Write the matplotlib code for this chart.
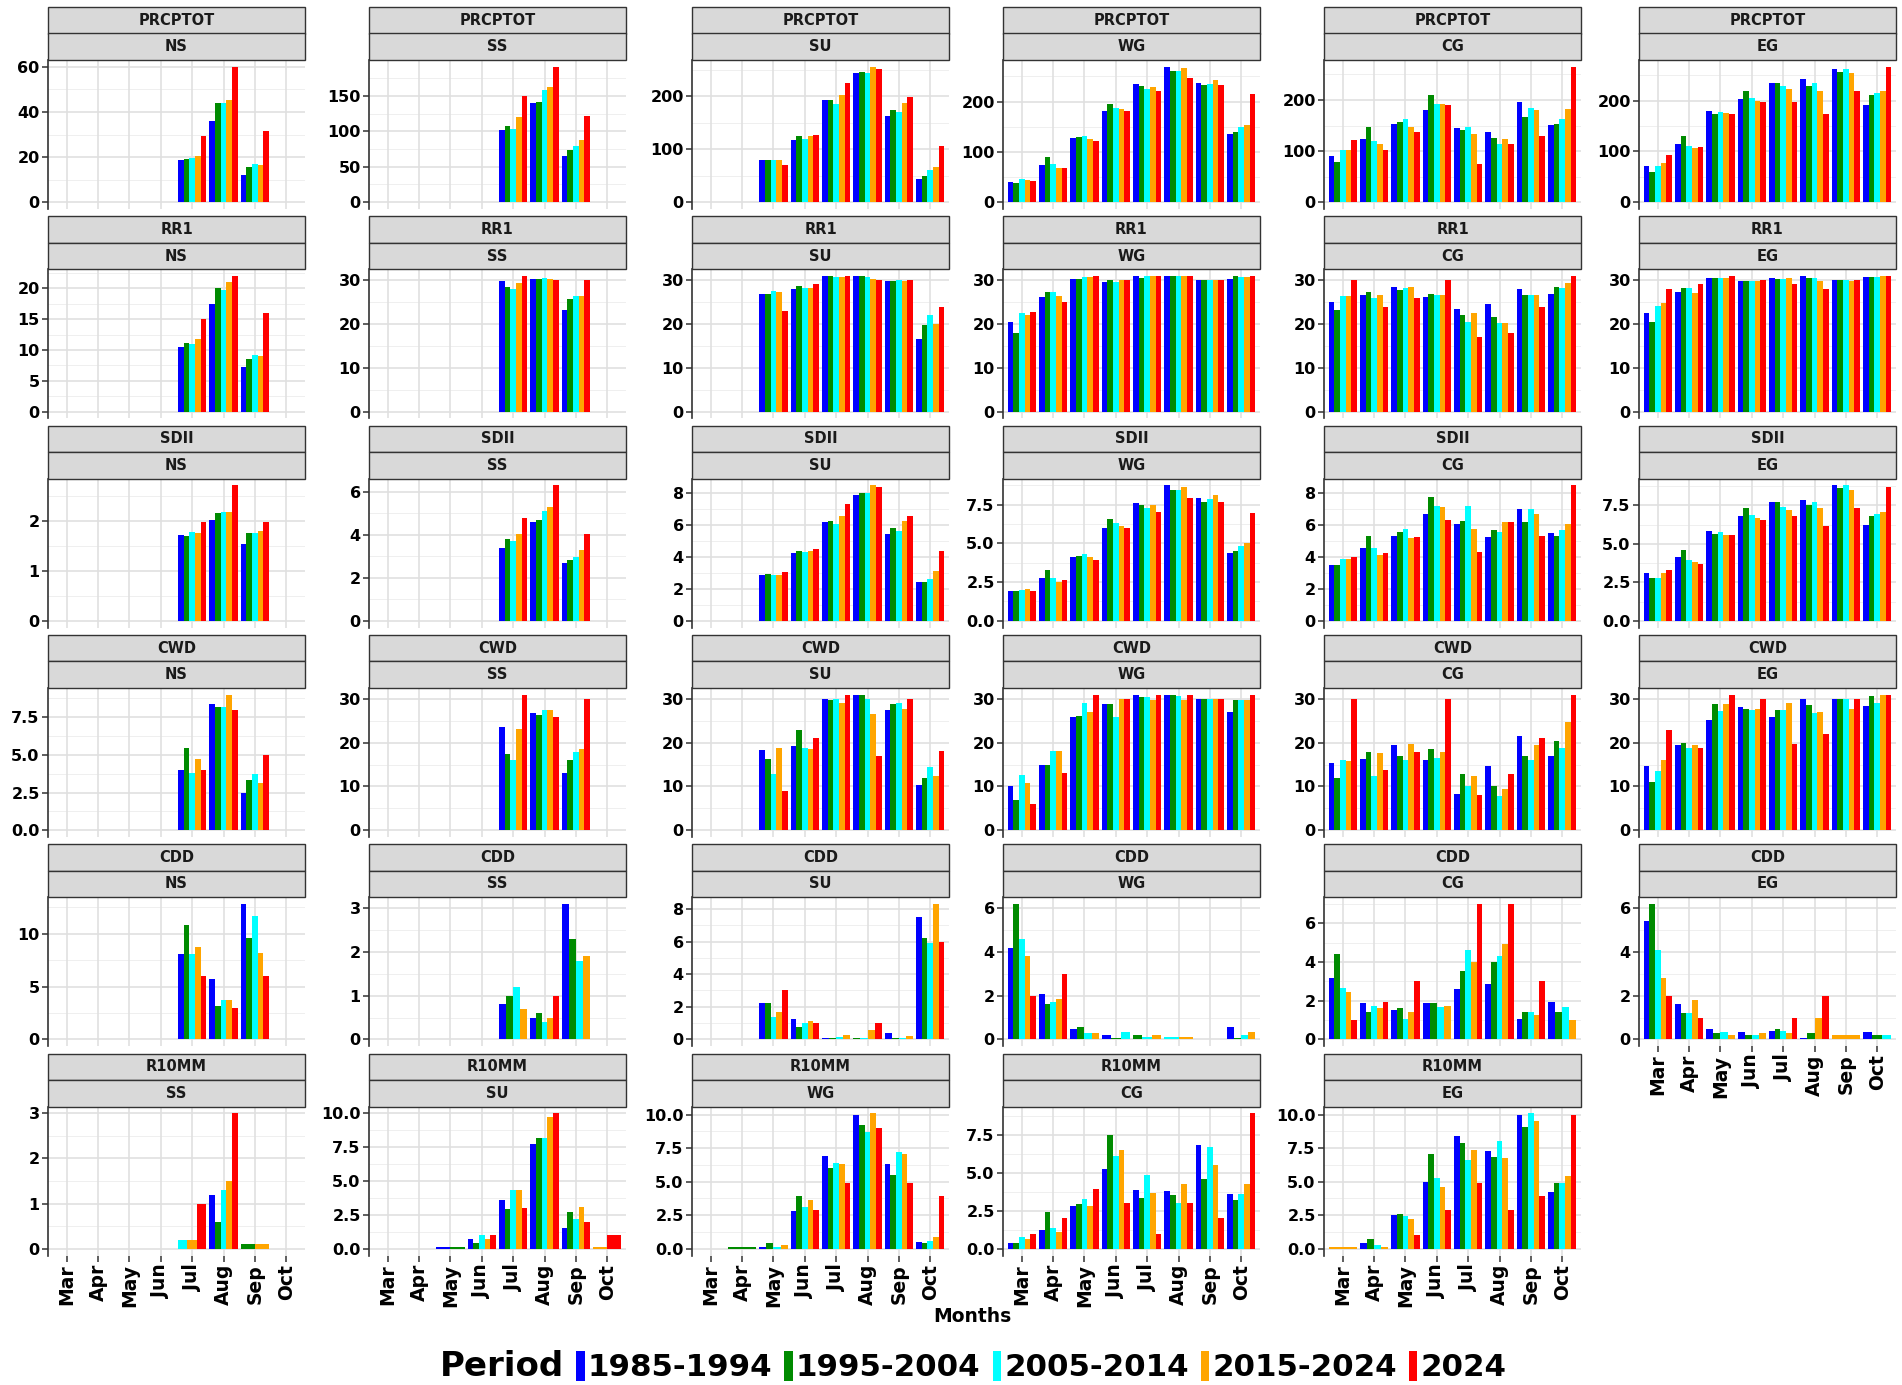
import numpy as np
import matplotlib
matplotlib.use("Agg")
import matplotlib.pyplot as plt
from matplotlib.patches import Rectangle

N = np.nan
E = [N, N, N, N, N]

months = ["Mar", "Apr", "May", "Jun", "Jul", "Aug", "Sep", "Oct"]
periods = ["1985-1994", "1995-2004", "2005-2014", "2015-2024", "2024"]
colors = ["#0000FF", "#008B00", "#00FFFF", "#FFA500", "#FF0000"]
regions = ["NS", "SS", "SU", "WG", "CG", "EG"]
indices = ["PRCPTOT", "RR1", "SDII", "CWD", "CDD", "R10MM"]

# ---- data: each panel = 8 months x 5 periods ----
PRCPTOT_NS = [E, E, E, E, [18.5, 19, 19.5, 20.5, 29.5], [36, 44, 44, 45.5, 60], [12, 15.5, 17, 16.5, 31.5], E]
PRCPTOT_SS = [E, E, E, E, [102, 108, 103, 120, 150], [140, 142, 158, 162, 191], [65, 73, 79, 88, 121], E]
PRCPTOT_SU = [E, E, [80, 80, 80, 80, 70], [117, 125, 120, 125, 128], [193, 193, 185, 203, 226],
              [244, 246, 244, 256, 251], [163, 175, 170, 187, 198], [44, 49, 60, 66, 106]]
PRCPTOT_WG = [[40, 38, 46, 45, 43], [73, 89, 76, 68, 68], [127, 129, 132, 126, 121], [181, 196, 187, 185, 181],
              [235, 231, 224, 228, 221], [269, 261, 261, 266, 246], [237, 232, 235, 242, 232], [135, 140, 149, 154, 215]]
PRCPTOT_CG = [[90, 79, 103, 103, 121], [124, 148, 119, 113, 103], [153, 156, 163, 148, 138], [181, 209, 193, 193, 190],
              [145, 142, 147, 133, 75], [138, 125, 114, 124, 113], [196, 167, 185, 180, 129], [151, 153, 163, 183, 265]]
PRCPTOT_EG = [[71, 59, 72, 78, 93], [114, 130, 111, 106, 109], [179, 174, 178, 175, 174], [203, 219, 206, 200, 197],
              [235, 235, 229, 224, 198], [243, 230, 235, 219, 174], [262, 257, 263, 254, 219], [192, 211, 216, 219, 267]]

RR1_NS = [E, E, E, E, [10.5, 11.2, 11, 11.8, 15], [17.5, 20, 19.8, 21, 22], [7.3, 8.6, 9.2, 9, 16], E]
RR1_SS = [E, E, E, E, [29.8, 28.5, 28, 29.4, 31], [30.4, 30.4, 30.6, 30.3, 30], [23.3, 25.7, 26.4, 26.4, 30.2], E]
RR1_SU = [E, E, [27, 27, 27.6, 27.3, 23], [28, 28.8, 28.2, 28.2, 29.2], [31, 31, 30.7, 30.7, 31],
          [31, 31, 30.8, 30.4, 30.1], [29.8, 29.8, 30.1, 29.8, 30.1], [16.6, 19.8, 22, 20, 24]]
RR1_WG = [[20.4, 18, 22.5, 22, 22.8], [26.3, 27.3, 27.3, 26.5, 25.1], [30.4, 30.4, 30.7, 30.7, 31], [29.7, 30.1, 29.7, 30.1, 30.1],
          [31, 30.6, 31, 31, 31], [31, 31, 31, 31, 31], [30.1, 30.1, 30, 30.1, 30.1], [30.4, 31, 30.7, 30.7, 31]]
RR1_CG = [[25, 23.2, 26.4, 26.4, 30], [26.7, 27.3, 26, 26.7, 24], [28.5, 27.8, 28.2, 28.5, 26], [26.3, 26.8, 26.7, 26.7, 30],
          [23.5, 22.2, 20.4, 22.6, 17], [24.5, 21.6, 20.2, 20.2, 17.9], [28, 26.6, 26.6, 26.6, 24], [27, 28.5, 28.2, 29.5, 31]]
RR1_EG = [[22.6, 20.6, 24.1, 24.8, 28], [27.3, 28.2, 28.2, 27.2, 29.2], [30.6, 30.6, 30.6, 30.6, 31], [29.8, 29.8, 29.8, 29.8, 30.1],
          [30.6, 30.4, 30.3, 30.6, 29.2], [31, 30.6, 30.6, 29.8, 28], [30.1, 30.1, 30.1, 29.8, 30.1], [30.7, 30.7, 30.7, 31, 31]]

SDII_NS = [E, E, E, E, [1.73, 1.70, 1.78, 1.76, 1.99], [2.03, 2.17, 2.19, 2.19, 2.72], [1.55, 1.76, 1.76, 1.81, 1.98], E]
SDII_SS = [E, E, E, E, [3.4, 3.8, 3.7, 4.05, 4.8], [4.6, 4.7, 5.1, 5.3, 6.3], [2.7, 2.85, 2.95, 3.3, 4.05], E]
SDII_SU = [E, E, [2.9, 2.95, 2.85, 2.9, 3.05], [4.25, 4.4, 4.35, 4.4, 4.5], [6.2, 6.25, 6.05, 6.6, 7.3],
           [7.9, 8.0, 8.0, 8.5, 8.4], [5.45, 5.85, 5.65, 6.25, 6.55], [2.45, 2.45, 2.6, 3.15, 4.4]]
SDII_WG = [[1.95, 1.95, 2.0, 2.05, 1.9], [2.75, 3.3, 2.75, 2.5, 2.65], [4.15, 4.2, 4.3, 4.1, 3.9], [6.0, 6.6, 6.3, 6.15, 6.0],
           [7.6, 7.5, 7.3, 7.5, 7.05], [8.75, 8.45, 8.45, 8.65, 7.95], [7.95, 7.65, 7.9, 8.1, 7.65], [4.35, 4.5, 4.85, 5.05, 6.95]]
SDII_CG = [[3.5, 3.5, 3.85, 3.9, 4.0], [4.6, 5.35, 4.6, 4.15, 4.25], [5.35, 5.6, 5.75, 5.2, 5.25], [6.7, 7.75, 7.2, 7.15, 6.3],
           [6.1, 6.25, 7.2, 5.75, 4.35], [5.25, 5.7, 5.6, 6.2, 6.2], [7.0, 6.2, 7.0, 6.7, 5.3], [5.5, 5.35, 5.7, 6.1, 8.5]]
SDII_EG = [[3.1, 2.75, 2.8, 3.1, 3.3], [4.15, 4.6, 3.95, 3.85, 3.7], [5.85, 5.65, 5.8, 5.6, 5.55], [6.8, 7.3, 6.9, 6.7, 6.55],
           [7.7, 7.75, 7.4, 7.2, 6.8], [7.85, 7.5, 7.7, 7.3, 6.15], [8.8, 8.6, 8.8, 8.5, 7.35], [6.25, 6.8, 6.95, 7.05, 8.7]]

CWD_NS = [E, E, E, E, [4.0, 5.45, 3.8, 4.7, 4.0], [8.4, 8.2, 8.2, 9.0, 8.0], [2.5, 3.3, 3.7, 3.1, 5.0], E]
CWD_SS = [E, E, E, E, [23.5, 17.5, 16, 23.2, 31], [26.7, 26.3, 27.5, 27.5, 26], [13, 16, 17.8, 18.5, 30], E]
CWD_SU = [E, E, [18.3, 16.3, 12.8, 18.8, 9], [19.2, 23, 18.8, 18.6, 21], [30.1, 29.7, 30.1, 29, 31],
          [31, 31, 30, 26.6, 17], [27.6, 28.9, 29.1, 27.8, 30.1], [10.3, 12, 14.5, 12.5, 18]]
CWD_WG = [[10.2, 7, 12.6, 10.8, 5.9], [14.8, 15, 18, 18, 13], [26, 26.2, 29.1, 27, 31], [28.8, 28.8, 26, 30, 30],
          [31, 30.4, 30.4, 29.7, 31], [31, 31, 30.7, 29.7, 31], [30, 30, 30, 30, 30], [27, 29.8, 29.8, 29.8, 31]]
CWD_CG = [[15.4, 12, 16, 15.8, 30], [16.3, 17.8, 12.3, 17.6, 13.8], [19.5, 17, 16, 19.8, 17.9], [16, 18.5, 16.6, 17.9, 30],
          [8.3, 12.9, 10.2, 12.5, 8], [14.7, 10.2, 7.8, 9.5, 12.9], [21.5, 16.9, 16, 19.5, 21], [17, 20.4, 18.8, 24.8, 31]]
CWD_EG = [[14.7, 11, 13.5, 16, 23], [19.4, 20, 18.8, 19.4, 18.8], [25.3, 28.8, 27.2, 28.8, 31], [28.1, 27.8, 27.5, 27.8, 30],
          [26, 27.5, 27.5, 29, 19.8], [30, 28.7, 26.8, 27, 22], [30, 30, 30, 27.8, 30], [28.5, 30.7, 29.1, 31, 31]]

CDD_NS = [E, E, E, E, [8.1, 10.8, 8.1, 8.7, 6.0], [5.7, 3.2, 3.7, 3.7, 3.0], [12.8, 9.6, 11.7, 8.2, 6.0], E]
CDD_SS = [E, E, E, E, [0.8, 1.0, 1.2, 0.7, N], [0.5, 0.6, 0.4, 0.5, 1.0], [3.1, 2.3, 1.8, 1.9, N], E]
CDD_SU = [E, E, [2.25, 2.25, 1.4, 1.7, 3.0], [1.25, 0.75, 1.0, 1.1, 1.0], [0.1, 0.1, 0.15, 0.25, N],
          [N, 0.1, 0.1, 0.55, 1.0], [0.4, 0.1, 0.1, 0.2, N], [7.5, 6.2, 5.9, 8.3, 6.0]]
CDD_WG = [[4.2, 6.2, 4.6, 3.8, 2.0], [2.1, 1.6, 1.7, 1.85, 3.0], [0.5, 0.55, 0.3, 0.3, N], [0.2, 0.05, 0.35, N, N],
          [N, 0.2, 0.1, 0.2, N], [N, N, 0.1, 0.1, N], E, [0.55, 0.05, 0.2, 0.35, N]]
CDD_CG = [[3.2, 4.4, 2.65, 2.45, 1.0], [1.9, 1.4, 1.75, 1.6, 1.95], [1.5, 1.6, 1.05, 1.4, 3.0], [1.9, 1.9, 1.7, 1.75, N],
          [2.6, 3.55, 4.6, 4.0, 7.0], [2.85, 4.0, 4.3, 4.95, 7.0], [1.05, 1.4, 1.4, 1.25, 3.0], [1.95, 1.4, 1.65, 1.0, N]]
CDD_EG = [[5.4, 6.2, 4.1, 2.8, 2.0], [1.6, 1.2, 1.2, 1.8, 1.0], [0.5, 0.3, 0.35, 0.2, N], [0.35, 0.2, 0.2, 0.3, N],
          [0.4, 0.5, 0.4, 0.3, 1.0], [0.05, 0.3, N, 1.0, 2.0], [N, N, N, 0.2, N], [0.35, 0.2, 0.2, N, N]]

R10MM_SS = [E, E, E, E, [N, N, 0.2, 0.2, 1.0], [1.2, 0.6, 1.3, 1.5, 3.0], [N, 0.1, N, 0.1, N], E]
R10MM_SU = [E, E, [0.1, 0.1, N, N, N], [0.7, 0.4, 1.0, 0.7, 1.0], [3.6, 2.9, 4.3, 4.3, 3.0],
            [7.7, 8.2, 8.2, 9.7, 10.0], [1.5, 2.7, 2.2, 3.1, 2.0], [N, N, N, 0.1, 1.0]]
R10MM_WG = [E, [N, 0.1, N, N, N], [0.1, 0.4, 0.1, 0.3, N], [2.8, 3.9, 3.1, 3.6, 2.9], [6.9, 6.0, 6.4, 6.3, 4.9],
            [10.0, 9.2, 8.7, 10.1, 9.0], [6.3, 5.5, 7.2, 7.1, 4.9], [0.5, 0.4, 0.6, 0.9, 3.9]]
R10MM_CG = [[0.35, 0.35, 0.75, 0.65, 1.0], [1.25, 2.45, 1.4, 1.1, 2.0], [2.85, 2.95, 3.3, 2.85, 3.95], [5.3, 7.5, 6.15, 6.5, 3.0],
            [3.85, 3.35, 4.9, 3.7, 1.0], [3.8, 3.55, 3.0, 4.3, 3.0], [6.85, 4.6, 6.75, 5.55, 2.0], [3.6, 3.25, 3.6, 4.3, 8.95]]
R10MM_EG = [[N, N, N, 0.1, N], [0.4, 0.7, 0.3, 0.1, N], [2.5, 2.6, 2.45, 2.25, 1.0], [5.0, 7.05, 5.3, 4.6, 2.9],
            [8.4, 7.85, 6.65, 7.35, 4.9], [7.25, 6.85, 8.05, 6.75, 2.9], [10.0, 9.1, 10.1, 9.5, 3.9], [4.2, 4.9, 4.9, 5.4, 10.0]]

# y-axis break steps per panel (tick labels)
y_steps = {
    "PRCPTOT": [20, 50, 100, 100, 100, 100],
    "RR1": [5, 10, 10, 10, 10, 10],
    "SDII": [1, 2, 2, 2.5, 2, 2.5],
    "CWD": [2.5, 10, 10, 10, 10, 10],
    "CDD": [5, 1, 2, 2, 2, 2],
    "R10MM": [1, 2.5, 2.5, 2.5, 2.5],
}

panels = [
    ("PRCPTOT", "NS", PRCPTOT_NS), ("PRCPTOT", "SS", PRCPTOT_SS), ("PRCPTOT", "SU", PRCPTOT_SU),
    ("PRCPTOT", "WG", PRCPTOT_WG), ("PRCPTOT", "CG", PRCPTOT_CG), ("PRCPTOT", "EG", PRCPTOT_EG),
    ("RR1", "NS", RR1_NS), ("RR1", "SS", RR1_SS), ("RR1", "SU", RR1_SU),
    ("RR1", "WG", RR1_WG), ("RR1", "CG", RR1_CG), ("RR1", "EG", RR1_EG),
    ("SDII", "NS", SDII_NS), ("SDII", "SS", SDII_SS), ("SDII", "SU", SDII_SU),
    ("SDII", "WG", SDII_WG), ("SDII", "CG", SDII_CG), ("SDII", "EG", SDII_EG),
    ("CWD", "NS", CWD_NS), ("CWD", "SS", CWD_SS), ("CWD", "SU", CWD_SU),
    ("CWD", "WG", CWD_WG), ("CWD", "CG", CWD_CG), ("CWD", "EG", CWD_EG),
    ("CDD", "NS", CDD_NS), ("CDD", "SS", CDD_SS), ("CDD", "SU", CDD_SU),
    ("CDD", "WG", CDD_WG), ("CDD", "CG", CDD_CG), ("CDD", "EG", CDD_EG),
    ("R10MM", "SS", R10MM_SS), ("R10MM", "SU", R10MM_SU), ("R10MM", "WG", R10MM_WG),
    ("R10MM", "CG", R10MM_CG), ("R10MM", "EG", R10MM_EG),
]

plt.rcParams["font.family"] = ["DejaVu Sans"]

W, H = 1902, 1385
fig = plt.figure(figsize=(W / 100, H / 100), dpi=100)
fig.patch.set_facecolor("white")

col_left = [48, 369, 692, 1003, 1324, 1639]
panel_w = 257
row_pitch = 209.3
strip_h = 26.5
panel_h = 149

GRID_MAJ = "#E0E0E0"
GRID_MIN = "#EFEFEF"
AX_COL = "#333333"


def fx(px):
    return px / W


def fy(py):
    return 1 - py / H


idx_counter = {k: 0 for k in indices}
n_total = len(panels)
for k, (ind, reg, data) in enumerate(panels):
    r, c = divmod(k, 6)
    step = y_steps[ind][idx_counter[ind]]
    idx_counter[ind] += 1
    strip_top = 7 + r * row_pitch
    ptop = strip_top + 2 * strip_h
    left = col_left[c]
    ax = fig.add_axes([fx(left), fy(ptop + panel_h), panel_w / W, panel_h / H])

    arr = np.array(data, dtype=float)
    # ggplot-like dodge: present groups share the 0.9 width
    for i in range(len(months)):
        present = [j for j in range(len(periods)) if not np.isnan(arr[i, j])]
        kk = len(present)
        if kk == 0:
            continue
        w = 0.9 / kk
        xs = [i - 0.45 + w * (n + 0.5) for n in range(kk)]
        ax.bar(xs, [arr[i, j] for j in present], width=w,
               color=[colors[j] for j in present], linewidth=0, zorder=3)

    ymax = np.nanmax(arr)
    ax.set_ylim(-0.05 * ymax, 1.05 * ymax)
    ax.set_xlim(-0.6, len(months) - 0.4)

    ticks = np.arange(0, ymax + 1e-9, step)
    ax.set_yticks(ticks)
    dec = 0 if float(step).is_integer() else 1
    ax.set_yticklabels([f"{t:.{dec}f}" for t in ticks], fontweight="bold")
    # minor grid at midpoints
    lo, hi = ax.get_ylim()
    minors = np.arange(-step / 2, hi, step)
    for m in minors:
        if lo <= m <= hi:
            ax.axhline(m, color=GRID_MIN, lw=0.7, zorder=0)
    for t in ticks:
        ax.axhline(t, color=GRID_MAJ, lw=1.2, zorder=1)
    for i in range(len(months)):
        ax.axvline(i, color=GRID_MAJ, lw=1.2, zorder=1)

    ax.tick_params(axis="y", length=4, width=1.1, color=AX_COL, labelsize=11.5, pad=2, labelcolor="black")
    ax.set_xticks(range(len(months)))
    bottom_panel = (k + 6 >= n_total)
    if bottom_panel:
        ax.set_xticklabels(months, rotation=90, fontsize=13.5, fontweight="bold")
        ax.tick_params(axis="x", length=4, width=1.1, color=AX_COL, pad=2)
    else:
        ax.tick_params(axis="x", bottom=False, labelbottom=False)

    for s in ["top", "right", "bottom"]:
        ax.spines[s].set_visible(False)
    ax.spines["left"].set_color(AX_COL)
    ax.spines["left"].set_linewidth(1.2)

    # strips
    for si, label in enumerate([ind, reg]):
        y0 = strip_top + si * strip_h
        fig.patches.append(Rectangle((fx(left), fy(y0 + strip_h)), panel_w / W, strip_h / H,
                                     transform=fig.transFigure, facecolor="#D9D9D9",
                                     edgecolor="#333333", linewidth=1.0, zorder=2))
        fig.text(fx(left + panel_w / 2), fy(y0 + strip_h / 2), label, ha="center", va="center",
                 fontsize=10.5, fontweight="bold", color="#1A1A1A", zorder=3)

# x-axis title
fig.text(fx(972), fy(1317), "Months", ha="center", va="center", fontsize=13.5, fontweight="bold")

# legend (manual, horizontal, title on the left)
fig.canvas.draw()
rend = fig.canvas.get_renderer()
base = 1376
x = 440
t = fig.text(fx(x), fy(base), "Period", ha="left", va="baseline", fontsize=24.5, fontweight="bold")
x = t.get_window_extent(rend).x1 + 12
for p, c in zip(periods, colors):
    fig.patches.append(Rectangle((fx(x), fy(1381)), 8.5 / W, 30 / H, transform=fig.transFigure,
                                 facecolor=c, edgecolor="none"))
    x += 8.5 + 3
    t = fig.text(fx(x), fy(base), p, ha="left", va="baseline", fontsize=22.2, fontweight="bold")
    x = t.get_window_extent(rend).x1 + 12

fig.savefig("out.png", dpi=100, facecolor="white")
